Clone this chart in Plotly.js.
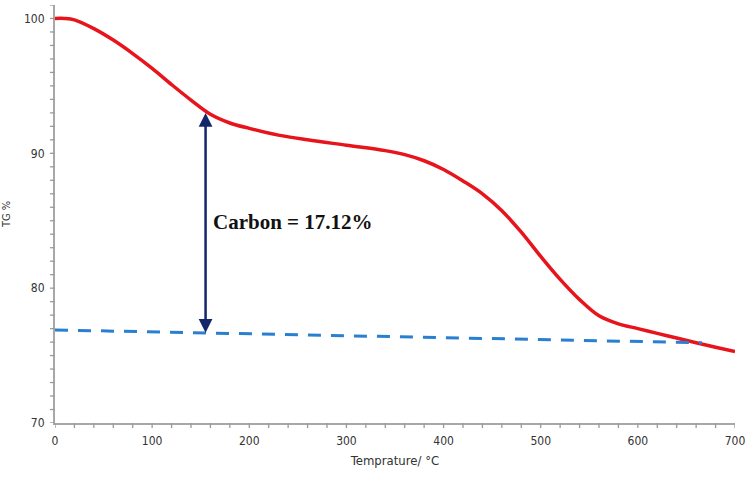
<!DOCTYPE html>
<html>
<head>
<meta charset="utf-8">
<script src="https://cdn.plot.ly/plotly-3.0.1.min.js"></script>
<style>html,body{margin:0;padding:0;background:#fff;}#chart{width:749px;height:480px;}</style>
</head>
<body>
<div id="chart"></div>
<script>
const temperature = [0, 10, 20, 40, 60, 80, 100, 120, 140, 160, 180, 200, 230, 260, 300, 340, 360, 380, 400, 420, 440, 460, 480, 500, 520, 540, 560, 580, 600, 620, 640, 660, 680, 700];
const tgPercent   = [100, 100, 99.9, 99.25, 98.4, 97.4, 96.3, 95.1, 93.95, 92.9, 92.25, 91.85, 91.35, 91.0, 90.6, 90.2, 89.9, 89.45, 88.8, 87.95, 87.0, 85.75, 84.15, 82.35, 80.65, 79.15, 77.95, 77.35, 77.0, 76.65, 76.3, 75.95, 75.62, 75.3];
const baselineT  = [0, 666];
const baselineTG = [76.9, 75.95];
const arrowT = 155;
const arrowTop = 93.1;
const arrowBottom = 76.7;
const labelText = "Carbon = 17.12%";
const labelT = 161;
const labelTG = 84.9;
const xTicks = [0, 100, 200, 300, 400, 500, 600, 700];
const yTicks = [70, 80, 90, 100];
const xMinorStep = 20;
const yMinorStep = 1;
const yMax = 101;

const tickFont = {family: "DejaVu Sans Condensed, Liberation Sans Narrow, sans-serif", size: 12, color: "#333"};
const gray = "#a8a8a8";
const tickGray = "#9a9a9a";

const data = [
  {x: temperature, y: tgPercent, type: "scatter", mode: "lines",
   line: {color: "#e8141c", width: 3.5, shape: "spline", smoothing: 1}, hoverinfo: "skip"},
  {x: baselineT, y: baselineTG, type: "scatter", mode: "lines",
   line: {color: "#2a7fd0", width: 3, dash: "13px,10px"}, hoverinfo: "skip"}
];

const xRange = [xTicks[0], xTicks[xTicks.length - 1]];
const yRange = [yTicks[0], yMax];

// tick marks drawn as axis-referenced shapes (value along the axis, pixel length across it)
const tickShapes = [];
for (let v = xRange[0]; v <= xRange[1] + 1e-9; v += xMinorStep) {
  tickShapes.push({type: "line", xref: "x", yref: "paper", ysizemode: "pixel", yanchor: 0,
    x0: v, x1: v, y0: 0, y1: -5, line: {color: tickGray, width: 1.3}, layer: "above"});
}
for (let v = yRange[0]; v <= yRange[1] + 1e-9; v += yMinorStep) {
  tickShapes.push({type: "line", xref: "paper", yref: "y", xsizemode: "pixel", xanchor: 0,
    x0: 0, x1: -5, y0: v, y1: v, line: {color: tickGray, width: 1.3}, layer: "above"});
}

const layout = {
  width: 749, height: 480,
  margin: {l: 55, r: 14, t: 4.5, b: 57},
  paper_bgcolor: "#fff", plot_bgcolor: "#fff",
  showlegend: false,
  xaxis: {
    range: xRange, tickmode: "array", tickvals: xTicks, ticktext: xTicks.map(String),
    showgrid: false, zeroline: false, showline: true, linecolor: gray, linewidth: 2,
    ticks: "outside", ticklen: 6, tickcolor: "rgba(0,0,0,0)",
    tickfont: tickFont,
    title: {text: "Temprature/ °C", font: {family: tickFont.family, size: 13, color: "#333"}, standoff: 8}
  },
  yaxis: {
    range: yRange, tickmode: "array", tickvals: yTicks, ticktext: yTicks.map(String),
    showgrid: false, zeroline: false, showline: true, linecolor: gray, linewidth: 2,
    ticks: "outside", ticklen: 6, tickcolor: "rgba(0,0,0,0)",
    tickfont: tickFont,
    title: {text: "TG %", font: {family: tickFont.family, size: 11, color: "#333"}, standoff: 12}
  },
  shapes: tickShapes,
  annotations: [
    {x: arrowT, y: arrowBottom, ax: arrowT, ay: arrowTop, xref: "x", yref: "y", axref: "x", ayref: "y",
     text: "", showarrow: true, arrowhead: 2, startarrowhead: 2, arrowside: "end+start",
     arrowsize: 1.1, startarrowsize: 1.1, arrowwidth: 2.5, arrowcolor: "#12286a"},
    {x: labelT, y: labelTG, xref: "x", yref: "y", text: "<b>" + labelText + "</b>", showarrow: false,
     xanchor: "left", yanchor: "middle",
     font: {family: "Liberation Serif, Times New Roman, serif", size: 21, color: "#111"}}
  ]
};

Plotly.newPlot("chart", data, layout, {displayModeBar: false, staticPlot: true});
</script>
</body>
</html>
